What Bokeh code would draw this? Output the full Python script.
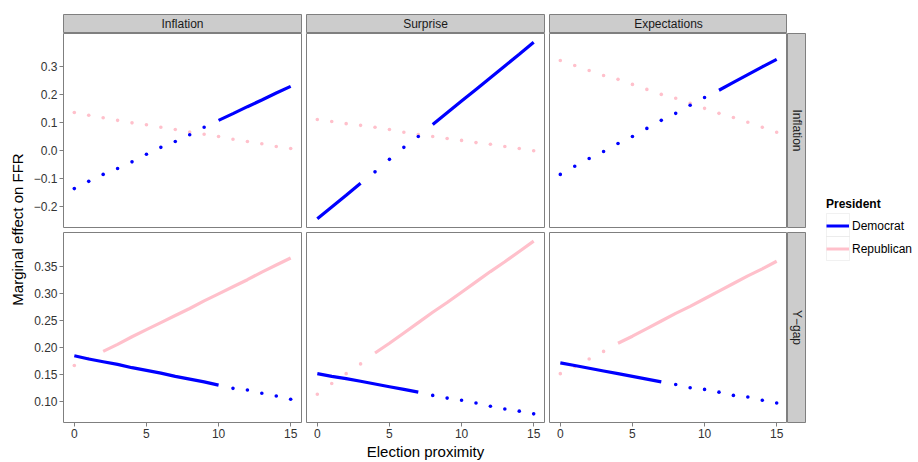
import math
import numpy as np
from bokeh.plotting import figure
from bokeh.layouts import row, column
from bokeh.models import Range1d, FixedTicker, Label, Legend, LegendItem, Spacer, BoxAnnotation
from bokeh.embed import file_html
from bokeh.resources import INLINE

# ---------------- data ----------------
proximity = list(range(16))
col_names = ["Inflation", "Surprise", "Expectations"]
row_names = ["Inflation", "Y\u2212gap"]
parties = ["Democrat", "Republican"]

# top row: effect of inflation
dem_inflation_inflation = [-0.137, -0.111, -0.086, -0.065, -0.041, -0.014, 0.011, 0.032, 0.056, 0.083, 0.108, 0.132, 0.157, 0.181, 0.206, 0.230]
rep_inflation_inflation = [0.136, 0.126, 0.117, 0.108, 0.099, 0.092, 0.083, 0.075, 0.066, 0.058, 0.050, 0.040, 0.032, 0.024, 0.014, 0.007]
dem_inflation_surprise = [-0.245, -0.203, -0.161, -0.118, -0.077, -0.032, 0.011, 0.050, 0.093, 0.135, 0.177, 0.219, 0.261, 0.303, 0.345, 0.388]
rep_inflation_surprise = [0.111, 0.104, 0.096, 0.090, 0.083, 0.075, 0.065, 0.057, 0.050, 0.043, 0.036, 0.028, 0.022, 0.014, 0.007, -0.001]
dem_inflation_expect = [-0.086, -0.057, -0.029, -0.004, 0.025, 0.050, 0.079, 0.108, 0.133, 0.162, 0.190, 0.216, 0.244, 0.272, 0.300, 0.327]
rep_inflation_expect = [0.323, 0.305, 0.287, 0.269, 0.255, 0.237, 0.219, 0.201, 0.187, 0.169, 0.151, 0.133, 0.118, 0.101, 0.083, 0.065]

# bottom row: effect of the output gap
dem_ygap_inflation = [0.185, 0.179, 0.174, 0.169, 0.163, 0.158, 0.153, 0.147, 0.142, 0.137, 0.131, 0.125, 0.122, 0.116, 0.111, 0.105]
rep_ygap_inflation = [0.167, 0.180, 0.193, 0.206, 0.220, 0.233, 0.246, 0.259, 0.272, 0.286, 0.299, 0.312, 0.325, 0.339, 0.352, 0.365]
dem_ygap_surprise = [0.152, 0.147, 0.143, 0.138, 0.133, 0.128, 0.123, 0.118, 0.112, 0.107, 0.103, 0.098, 0.092, 0.087, 0.083, 0.078]
rep_ygap_surprise = [0.114, 0.134, 0.152, 0.170, 0.190, 0.208, 0.227, 0.246, 0.265, 0.283, 0.302, 0.321, 0.340, 0.358, 0.377, 0.396]
dem_ygap_expect = [0.172, 0.167, 0.162, 0.157, 0.152, 0.147, 0.142, 0.137, 0.132, 0.126, 0.123, 0.118, 0.112, 0.109, 0.103, 0.098]
rep_ygap_expect = [0.152, 0.165, 0.179, 0.193, 0.208, 0.221, 0.235, 0.249, 0.263, 0.276, 0.290, 0.304, 0.318, 0.332, 0.345, 0.359]

# 1 = significant (drawn as solid line), 0 = not significant (dotted points)
sig_dem_inflation_inflation = [0, 0, 0, 0, 0, 0, 0, 0, 0, 0, 1, 1, 1, 1, 1, 1]
sig_rep_inflation_inflation = [0, 0, 0, 0, 0, 0, 0, 0, 0, 0, 0, 0, 0, 0, 0, 0]
sig_dem_inflation_surprise = [1, 1, 1, 1, 0, 0, 0, 0, 1, 1, 1, 1, 1, 1, 1, 1]
sig_rep_inflation_surprise = [0, 0, 0, 0, 0, 0, 0, 0, 0, 0, 0, 0, 0, 0, 0, 0]
sig_dem_inflation_expect = [0, 0, 0, 0, 0, 0, 0, 0, 0, 0, 0, 1, 1, 1, 1, 1]
sig_rep_inflation_expect = [0, 0, 0, 0, 0, 0, 0, 0, 0, 0, 0, 0, 0, 0, 0, 0]
sig_dem_ygap_inflation = [1, 1, 1, 1, 1, 1, 1, 1, 1, 1, 1, 0, 0, 0, 0, 0]
sig_rep_ygap_inflation = [0, 0, 1, 1, 1, 1, 1, 1, 1, 1, 1, 1, 1, 1, 1, 1]
sig_dem_ygap_surprise = [1, 1, 1, 1, 1, 1, 1, 1, 0, 0, 0, 0, 0, 0, 0, 0]
sig_rep_ygap_surprise = [0, 0, 0, 0, 1, 1, 1, 1, 1, 1, 1, 1, 1, 1, 1, 1]
sig_dem_ygap_expect = [1, 1, 1, 1, 1, 1, 1, 1, 0, 0, 0, 0, 0, 0, 0, 0]
sig_rep_ygap_expect = [0, 0, 0, 0, 1, 1, 1, 1, 1, 1, 1, 1, 1, 1, 1, 1]

x_ticks = [0, 5, 10, 15]
x_tick_labels = ["0", "5", "10", "15"]
y_ticks_top = [-0.2, -0.1, 0.0, 0.1, 0.2, 0.3]
y_tick_labels_top = ["\u22120.2", "\u22120.1", "0.0", "0.1", "0.2", "0.3"]
y_ticks_bottom = [0.10, 0.15, 0.20, 0.25, 0.30, 0.35]
y_tick_labels_bottom = ["0.10", "0.15", "0.20", "0.25", "0.30", "0.35"]

# ---------------- styling ----------------
FONT = "Liberation Sans"
BLUE = "#0000ff"
PINK = "#ffc0cb"
BORDER = "#7f7f7f"
STRIP = "#cccccc"
TXT = "#333333"

panels = [
    [(dem_inflation_inflation, sig_dem_inflation_inflation, rep_inflation_inflation, sig_rep_inflation_inflation),
     (dem_inflation_surprise, sig_dem_inflation_surprise, rep_inflation_surprise, sig_rep_inflation_surprise),
     (dem_inflation_expect, sig_dem_inflation_expect, rep_inflation_expect, sig_rep_inflation_expect)],
    [(dem_ygap_inflation, sig_dem_ygap_inflation, rep_ygap_inflation, sig_rep_ygap_inflation),
     (dem_ygap_surprise, sig_dem_ygap_surprise, rep_ygap_surprise, sig_rep_ygap_surprise),
     (dem_ygap_expect, sig_dem_ygap_expect, rep_ygap_expect, sig_rep_ygap_expect)],
]


def expanded(vals, mult=0.05):
    lo, hi = min(vals), max(vals)
    pad = (hi - lo) * mult
    return Range1d(lo - pad, hi + pad)


x_range = expanded(proximity)
y_ranges = []
for r in panels:
    vals = []
    for d, _, rp, _ in r:
        vals += d + rp
    y_ranges.append(expanded(vals))


def segments(xs, ys, sig):
    sx, sy, cx, cy = [], [], [], []
    for xv, yv, s in zip(xs, ys, sig):
        if s:
            cx.append(xv)
            cy.append(yv)
        else:
            if cx:
                sx.append(cx)
                sy.append(cy)
            cx, cy = [], []
    if cx:
        sx.append(cx)
        sy.append(cy)
    return sx, sy


def draw_series(p, ys, sig, color):
    px = [xv for xv, s in zip(proximity, sig) if not s]
    py = [yv for yv, s in zip(ys, sig) if not s]
    if px:
        p.scatter(px, py, size=3.6, color=color, line_color=None)
    sx, sy = segments(proximity, ys, sig)
    if sx:
        p.multi_line(sx, sy, line_color=color, line_width=3.2)


# column geometry (figure widths and borders)
col_w = [276, 243, 240]
col_l = [35, 2, 2]
col_r = [3, 3, 0]
row_h = [196, 233]
row_t = [0, 3]
row_b = [2, 37]


def style_axis(ax):
    ax.axis_line_color = None
    ax.major_tick_out = 4
    ax.major_tick_in = 0
    ax.minor_tick_out = 0
    ax.minor_tick_in = 0
    ax.major_tick_line_color = BORDER
    ax.major_label_text_font = FONT
    ax.major_label_text_font_size = "12px"
    ax.major_label_text_color = TXT
    ax.major_label_standoff = 2


def make_panel(ri, ci):
    p = figure(width=col_w[ci], height=row_h[ri], x_range=x_range, y_range=y_ranges[ri],
               output_backend="svg", toolbar_location=None,
               x_axis_location="below" if ri == 1 else None,
               y_axis_location="left" if ci == 0 else None,
               min_border_left=col_l[ci], min_border_right=col_r[ci],
               min_border_top=row_t[ri], min_border_bottom=row_b[ri])
    p.grid.visible = False
    p.background_fill_color = "white"
    p.border_fill_color = "white"
    p.outline_line_color = BORDER
    p.outline_line_width = 1
    d, sd, rp, sr = panels[ri][ci]
    draw_series(p, rp, sr, PINK)
    draw_series(p, d, sd, BLUE)
    if ri == 1:
        ax = p.xaxis[0]
        style_axis(ax)
        ax.ticker = FixedTicker(ticks=x_ticks)
        ax.major_label_overrides = {t: l for t, l in zip(x_ticks, x_tick_labels)}
        if ci == 1:
            ax.axis_label = "Election proximity"
            ax.axis_label_text_font = FONT
            ax.axis_label_text_font_size = "15px"
            ax.axis_label_text_font_style = "normal"
            ax.axis_label_text_color = "black"
            ax.axis_label_standoff = 2
    if ci == 0:
        ax = p.yaxis[0]
        style_axis(ax)
        ticks = y_ticks_top if ri == 0 else y_ticks_bottom
        labs = y_tick_labels_top if ri == 0 else y_tick_labels_bottom
        ax.ticker = FixedTicker(ticks=ticks)
        ax.major_label_overrides = {t: l for t, l in zip(ticks, labs)}
    return p


def make_strip(text, width, height, left, right, top, bottom, angle=0.0):
    s = figure(width=width, height=height, x_range=Range1d(0, 1), y_range=Range1d(0, 1),
               output_backend="svg", toolbar_location=None,
               x_axis_location=None, y_axis_location=None,
               min_border_left=left, min_border_right=right,
               min_border_top=top, min_border_bottom=bottom)
    s.grid.visible = False
    s.background_fill_color = STRIP
    s.border_fill_color = "white"
    s.outline_line_color = BORDER
    s.add_layout(Label(x=0.5, y=0.5, text=text, text_align="center", text_baseline="middle",
                       angle=angle, text_font=FONT, text_font_size="12px", text_color="#1a1a1a"))
    return s


top_strips = [make_strip(col_names[ci], col_w[ci], 33, col_l[ci], col_r[ci], 14, 0) for ci in range(3)]
right_strips = [make_strip(row_names[ri], 19, row_h[ri], 0, 0, row_t[ri], row_b[ri], angle=-math.pi / 2)
                for ri in range(2)]

grid_rows = [row(*top_strips, Spacer(width=19, height=33), spacing=0)]
for ri in range(2):
    grid_rows.append(row(*[make_panel(ri, ci) for ci in range(3)], right_strips[ri], spacing=0))
mid = column(*grid_rows, spacing=0)

# y axis title
ylab = figure(width=28, height=462, x_range=Range1d(0, 1), y_range=Range1d(0, 1),
              output_backend="svg", toolbar_location=None,
              x_axis_location=None, y_axis_location=None,
              min_border_left=0, min_border_right=0, min_border_top=0, min_border_bottom=0)
ylab.grid.visible = False
ylab.outline_line_color = None
ylab.add_layout(Label(x=17, y=233, x_units="screen", y_units="screen", text="Marginal effect on FFR",
                      angle=math.pi / 2, text_align="center", text_baseline="middle",
                      text_font=FONT, text_font_size="15px", text_color="black"))

# legend (proxy renderers: a single undefined point each, so nothing shows in the frame)
leg = figure(width=112, height=462, x_range=Range1d(0, 1), y_range=Range1d(0, 1),
             output_backend="svg", toolbar_location=None,
             x_axis_location=None, y_axis_location=None,
             min_border_left=0, min_border_right=0, min_border_top=0, min_border_bottom=0)
leg.grid.visible = False
leg.outline_line_color = None
r_dem = leg.line(x=np.array([np.nan]), y=np.array([np.nan]), line_color=BLUE, line_width=3)
r_rep = leg.line(x=np.array([np.nan]), y=np.array([np.nan]), line_color=PINK, line_width=3)
# key frames (ggplot-style grey key boxes)
for top, bottom in [(249, 226), (226, 202)]:
    leg.add_layout(BoxAnnotation(left=20, right=43, top=top, bottom=bottom,
                                 left_units="screen", right_units="screen",
                                 top_units="screen", bottom_units="screen",
                                 fill_color="white", fill_alpha=1.0,
                                 line_color="#d0d0d0", line_width=1))
legend = Legend(items=[LegendItem(label=parties[0], renderers=[r_dem]),
                       LegendItem(label=parties[1], renderers=[r_rep])],
                title="President", location=(20, 202))
legend.title_text_font = FONT
legend.title_text_font_size = "12px"
legend.title_text_font_style = "bold"
legend.title_text_color = "black"
legend.title_standoff = 3
legend.label_text_font = FONT
legend.label_text_font_size = "12px"
legend.label_text_color = "black"
legend.glyph_width = 23
legend.glyph_height = 23
legend.label_height = 23
legend.label_standoff = 3
legend.spacing = 0
legend.padding = 0
legend.margin = 0
legend.border_line_color = None
legend.background_fill_alpha = 0
leg.add_layout(legend)

page = row(ylab, mid, leg, spacing=0)

open("out.html", "w").write(file_html(page, INLINE))
